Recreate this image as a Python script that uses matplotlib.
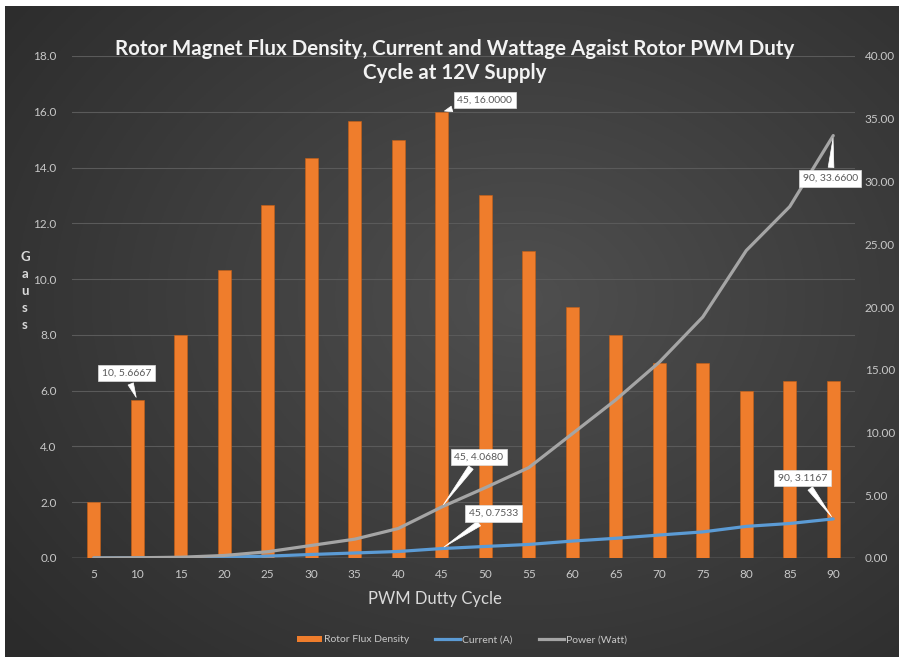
import numpy as np
import matplotlib
matplotlib.use('Agg')
import matplotlib.pyplot as plt
from matplotlib.patches import Patch
from matplotlib.lines import Line2D

# ─── Data ─────────────────────────────────────────────────────────────────────
duty = [5, 10, 15, 20, 25, 30, 35, 40, 45, 50, 55, 60, 65, 70, 75, 80, 85, 90]
flux = [2.0, 5.6667, 8.0, 10.3333, 12.6667, 14.3333, 15.6667, 15.0, 16.0,
        13.0, 11.0, 9.0, 8.0, 7.0, 7.0, 6.0, 6.3333, 6.3333]
current = [0.0, 0.01, 0.03, 0.06, 0.15, 0.28, 0.4, 0.52, 0.7533,
           0.92, 1.08, 1.35, 1.57, 1.83, 2.08, 2.52, 2.75, 3.1167]
power = [0.0, 0.02, 0.06, 0.2, 0.5, 1.0, 1.5, 2.35, 4.068,
         5.6, 7.2, 9.9, 12.6, 15.6, 19.2, 24.5, 28.0, 33.66]

ORANGE = '#ef7d2c'
BLUE = '#5b9bd5'
GREY = '#a5a5a5'
TXT = '#c8c8c8'
FONT = 'Lato'

fig = plt.figure(figsize=(8.99, 6.57), dpi=100)
fig.patch.set_facecolor('white')

# dark radial background
bg = fig.add_axes([5 / 899, 0, 894 / 899, 651 / 657], zorder=-10)
yy, xx = np.mgrid[0:1:300j, 0:1:400j]
r = np.sqrt(((xx - 0.58) / 0.75) ** 2 + ((yy - 0.45) / 0.8) ** 2)
shade = 0.31 - 0.14 * np.clip(r, 0, 1)
bg.imshow(np.dstack([shade] * 3), aspect='auto', extent=[0, 1, 0, 1])
bg.axis('off')

ax = fig.add_axes([72 / 899, 1 - 558 / 657, 783 / 899, 502 / 657])
ax.set_facecolor('none')
ax2 = ax.twinx()

x = np.arange(len(duty))
ax.bar(x, flux, width=0.31, color=ORANGE, edgecolor='#c85f14', linewidth=0.4,
       zorder=3)
ax2.plot(x, current, color=BLUE, lw=2.3, zorder=4, solid_capstyle='round')
ax2.plot(x, power, color=GREY, lw=2.3, zorder=4, solid_capstyle='round')

ax.set_xlim(-0.5, len(duty) - 0.5)
ax.set_ylim(0, 18)
ax2.set_ylim(0, 40)
ax.set_yticks(np.arange(0, 18.1, 2))
ax2.set_yticks(np.arange(0, 40.1, 5))
ax.set_yticklabels([f'{v:.1f}' for v in np.arange(0, 18.1, 2)])
ax2.set_yticklabels([f'{v:.2f}' for v in np.arange(0, 40.1, 5)])
ax.set_xticks(x)
ax.set_xticklabels([str(d) for d in duty])

for a in (ax, ax2):
    for s in a.spines.values():
        s.set_visible(False)
    a.tick_params(length=0, colors=TXT, labelsize=8.5)
    for lab in a.get_xticklabels() + a.get_yticklabels():
        lab.set_fontfamily(FONT)
ax.tick_params(axis='y', pad=11)
ax.tick_params(axis='x', pad=8)
ax2.tick_params(axis='y', pad=7)
ax.grid(axis='y', color='#5a5a5a', lw=0.8, zorder=0)
ax.set_axisbelow(True)
ax.axhline(0, color='#8c8c8c', lw=1.0, zorder=2)

ax.set_xlabel('PWM Dutty Cycle', fontsize=12, color='#d9d9d9', family=FONT)
ax.xaxis.set_label_coords((435 - 72) / 783, -(591 - 558) / 502)
fig.text(25 / 899, 1 - 291 / 657, 'G\na\nu\ns\ns', ha='center', va='center',
         fontsize=9.5, color='#d9d9d9', family=FONT, fontweight='bold',
         linespacing=1.5)

fig.text(455 / 899, 1 - 61 / 657,
         'Rotor Magnet Flux Density, Current and Wattage Agaist Rotor PWM Duty\n'
         'Cycle at 12V Supply',
         ha='center', va='center', fontsize=14.8, fontweight='bold',
         color='#f2f2f2', family=FONT, linespacing=1.3)


# ─── Callouts ─────────────────────────────────────────────────────────────────
def callout(a, i, val, text, dx, dy):
    a.annotate(text, xy=(i, val), xytext=(dx, dy), textcoords='offset pixels',
               ha='center', va='center', fontsize=7.5, color='#595959',
               family=FONT, zorder=10,
               bbox=dict(boxstyle='square,pad=0.35', fc='white', ec='#dddddd',
                         lw=0.5),
               arrowprops=dict(arrowstyle='wedge,tail_width=0.55,shrink_factor=0.5',
                               fc='white', ec='white', lw=0.5))


i10 = duty.index(10)
i45 = duty.index(45)
i90 = duty.index(90)
callout(ax, i10, flux[i10], f'{duty[i10]}, {flux[i10]:.4f}', -11, 27)
callout(ax, i45, flux[i45], f'{duty[i45]}, {flux[i45]:.4f}', 43, 12)
callout(ax2, i45, power[i45], f'{duty[i45]}, {power[i45]:.4f}', 37, 50)
callout(ax2, i45, current[i45], f'{duty[i45]}, {current[i45]:.4f}', 52, 35)
callout(ax2, i90, current[i90], f'{duty[i90]}, {current[i90]:.4f}', -31, 41)
callout(ax2, i90, power[i90], f'{duty[i90]}, {power[i90]:.4f}', -3, -43)

# ─── Legend ───────────────────────────────────────────────────────────────────
handles = [Patch(facecolor=ORANGE, edgecolor='none'),
           Line2D([0], [0], color=BLUE, lw=2.3),
           Line2D([0], [0], color=GREY, lw=2.3)]
leg = fig.legend(handles, ['Rotor Flux Density', 'Current (A)', 'Power (Watt)'],
                 loc='center', bbox_to_anchor=(462 / 899, 1 - 640 / 657),
                 ncol=3, frameon=False, handlelength=2.4,
                 handleheight=0.6, handletextpad=0.2, columnspacing=2.5,
                 prop={'family': FONT, 'size': 7.5})
for t in leg.get_texts():
    t.set_color(TXT)

fig.savefig('out.png', dpi=100, facecolor=fig.get_facecolor())
